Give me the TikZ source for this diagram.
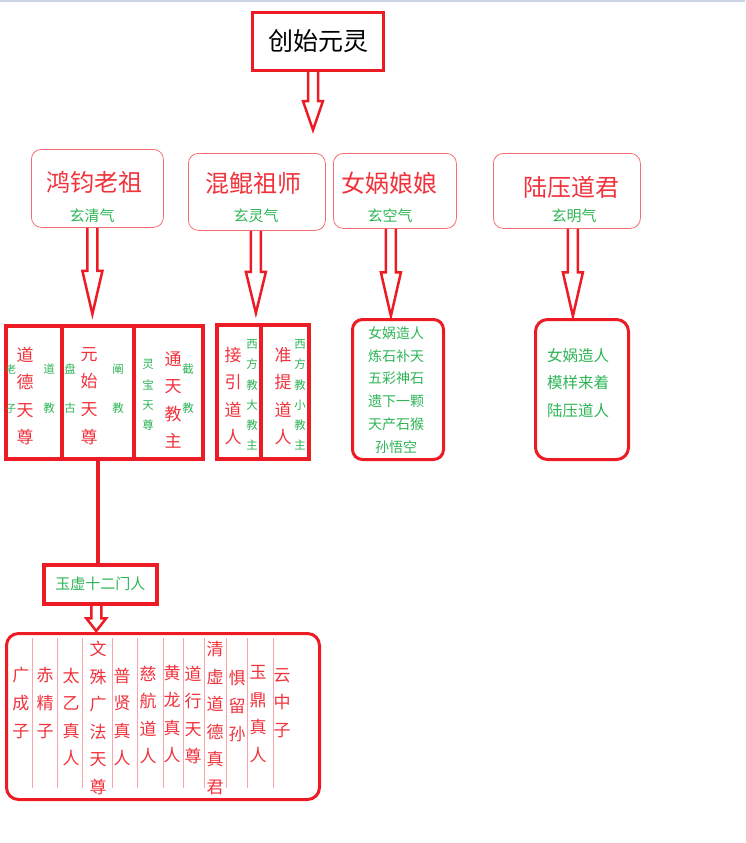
\documentclass[tikz,border=0pt]{standalone}
\usepackage{fontspec}
\setmainfont{Noto Sans CJK SC}
\usetikzlibrary{calc}
\definecolor{boxred}{RGB}{237, 28, 36}
\definecolor{softred}{RGB}{245, 110, 115}
\definecolor{namered}{RGB}{240, 50, 60}
\definecolor{qigreen}{RGB}{45, 180, 85}
\definecolor{rulepink}{RGB}{250, 165, 170}
\definecolor{topgray}{RGB}{205, 212, 228}

\tikzset{
  ancestor/.style={draw=softred, line width=0.8pt, rounded corners=10pt, anchor=north west, inner sep=0pt},
  thickbox/.style={draw=boxred, line width=3.5pt, anchor=north west, inner sep=0pt},
  hollow/.style={draw=boxred, line width=2.5pt},
  bigname/.style={text=namered, font=\fontsize{24}{28}\selectfont, inner sep=0pt},
  qi/.style={text=qigreen, font=\fontsize{15}{18}\selectfont, inner sep=0pt},
  vname/.style={text=namered, font=\fontsize{17}{27.6}\selectfont, align=center, inner sep=0pt},
  vnote/.style={text=qigreen, font=\fontsize{11.5}{20.2}\selectfont, align=center, inner sep=0pt},
  vpair/.style={text=qigreen, font=\fontsize{11.5}{39}\selectfont, align=center, inner sep=0pt},
}

% hollow block arrow from a start point down to the height of an end point
\newcommand{\hollowarrow}[2]{%
  \draw[hollow] let \p1=#1, \p2=#2, \p3=($#1!0.5!#2$) in
    (\x1-5pt,\y1) -- (\x1-5pt,\y3) -- (\x1-10pt,\y3) -- (\x1,\y2)
    -- (\x1+10pt,\y3) -- (\x1+5pt,\y3) -- (\x1+5pt,\y1);}

\begin{document}
\begin{tikzpicture}[x=1pt, y=-1pt]
  \useasboundingbox (0,0) rectangle (745,843);
  \draw[topgray, line width=2pt] (0,1) -- (745,1);

  % Origin
  \node[thickbox, line width=3pt, minimum width=131pt, minimum height=58pt, font=\fontsize{25}{30}\selectfont] (chuangshi) at (251,11) {创始元灵};
  \coordinate (tip) at (310,130);

  % Four ancestors
  \node[ancestor, minimum width=132pt, minimum height=78pt] (hongjun) at (31,149) {};
  \node[bigname] (hjname) at (94,182) {鸿钧老祖};
  \node[qi] (hjqi) at (92,216) {玄清气};

  \node[ancestor, minimum width=137pt, minimum height=77pt] (hunkun) at (188,153) {};
  \node[bigname] (hkname) at (253,183) {混鲲祖师};
  \node[qi] (hkqi) at (256,216) {玄灵气};

  \node[ancestor, minimum width=123pt, minimum height=75pt] (nuwa) at (333,153) {};
  \node[bigname] (nwname) at (389,183) {女娲娘娘};
  \node[qi] (nwqi) at (390,216) {玄空气};

  \node[ancestor, minimum width=147pt, minimum height=75pt] (luya) at (493,153) {};
  \node[bigname] (lyname) at (571,187) {陆压道君};
  \node[qi] (lyqi) at (574,216) {玄明气};

  % Three Pure Ones
  \node[thickbox, minimum width=56pt, minimum height=133pt] (laozi) at (4,324) {};
  \node[vname] (ldname) at (25,396) {道\\德\\天\\尊};
  \node[vpair, font=\fontsize{10.5}{39}\selectfont] (laozinote) at (11,389) {老\\子};
  \node[vpair] (daojiao) at (49,389) {道\\教};

  \node[thickbox, minimum width=72pt, minimum height=133pt] (yuanshi) at (60,324) {};
  \node[vname] (ysname) at (89,396) {元\\始\\天\\尊};
  \node[vpair] (pangu) at (70,389) {盘\\古};
  \node[vpair] (chanjiao) at (118,389) {阐\\教};

  \node[thickbox, minimum width=69pt, minimum height=133pt] (tongtian) at (132,324) {};
  \node[vnote] (lingbao) at (148,395) {灵\\宝\\天\\尊};
  \node[vname] (ttname) at (173,400) {通\\天\\教\\主};
  \node[vpair] (jiejiao) at (188,389) {截\\教};

  % Western sect
  \node[thickbox, minimum width=44pt, minimum height=134pt] (jieyin) at (215,323) {};
  \node[vname] (jyname) at (233,396) {接\\引\\道\\人};
  \node[vnote] (jynote) at (252,395) {西\\方\\教\\大\\教\\主};

  \node[thickbox, minimum width=48pt, minimum height=134pt] (zhunti) at (259,323) {};
  \node[vname] (ztname) at (283,396) {准\\提\\道\\人};
  \node[vnote] (ztnote) at (300,395) {西\\方\\教\\小\\教\\主};

  % Nuwa and Luya
  \node[thickbox, line width=3pt, rounded corners=10pt, minimum width=91pt, minimum height=140pt] (nuwalist) at (351,318) {};
  \node[text=qigreen, font=\fontsize{14}{22.8}\selectfont, align=center, inner sep=0pt] (nuwatext) at (396,390)
    {女娲造人\\炼石补天\\五彩神石\\遗下一颗\\天产石猴\\孙悟空};

  \node[thickbox, line width=3pt, rounded corners=12pt, minimum width=93pt, minimum height=140pt] (luyalist) at (534,318) {};
  \node[text=qigreen, font=\fontsize{15.5}{27.5}\selectfont, align=center, inner sep=0pt] (luyatext) at (578,383)
    {女娲造人\\模样来着\\陆压道人};

  % Yuxu disciples
  \node[thickbox, minimum width=113pt, minimum height=39pt, text=qigreen, font=\fontsize{15}{18}\selectfont] (yuxu) at (42,563) {玉虚十二门人};
  \node[thickbox, line width=3pt, rounded corners=12pt, minimum width=313pt, minimum height=166pt] (disciples) at (5,632) {};

  \foreach \sx in {32,57,82,112,137,163,183,204,226,247,273}
    \draw[rulepink, line width=0.8pt] (\sx,638) -- (\sx,788);

  \node[vname, text width=17pt] (guangcheng) at (21,703) {广\\成\\子};
  \node[vname, text width=17pt] (chijing) at (45,703) {赤\\精\\子};
  \node[vname, text width=17pt] (taiyi) at (71,717) {太\\乙\\真\\人};
  \node[vname, text width=17pt] (wenshu) at (98,718) {文\\殊\\广\\法\\天\\尊};
  \node[vname, text width=17pt] (puxian) at (122,717) {普\\贤\\真\\人};
  \node[vname, text width=17pt] (cihang) at (148,715) {慈\\航\\道\\人};
  \node[vname, text width=17pt] (huanglong) at (172,714) {黄\\龙\\真\\人};
  \node[vname, text width=17pt] (daoxing) at (193,715) {道\\行\\天\\尊};
  \node[vname, text width=17pt] (qingxu) at (215,718) {清\\虚\\道\\德\\真\\君};
  \node[vname, text width=17pt] (juliusun) at (237,706) {惧\\留\\孙};
  \node[vname, text width=17pt] (yuding) at (258,714) {玉\\鼎\\真\\人};
  \node[vname, text width=17pt] (yunzhong) at (282,703) {云\\中\\子};

  % Connectors
  \hollowarrow{([xshift=-5pt]chuangshi.south)}{(tip)}
  \hollowarrow{([xshift=-5pt]hongjun.south)}{([yshift=10pt]yuanshi.north)}
  \hollowarrow{([xshift=-1pt]hunkun.south)}{([yshift=10pt]jieyin.north)}
  \hollowarrow{([xshift=-4pt]nuwa.south)}{([yshift=2pt]nuwalist.north)}
  \hollowarrow{([xshift=6pt]luya.south)}{([yshift=2pt]luyalist.north)}
  \draw[boxred, line width=4pt] (yuanshi.south) -- (yuanshi.south |- yuxu.north);
  \hollowarrow{([xshift=-4pt]yuxu.south)}{([yshift=1pt]disciples.north)}
\end{tikzpicture}
\end{document}
